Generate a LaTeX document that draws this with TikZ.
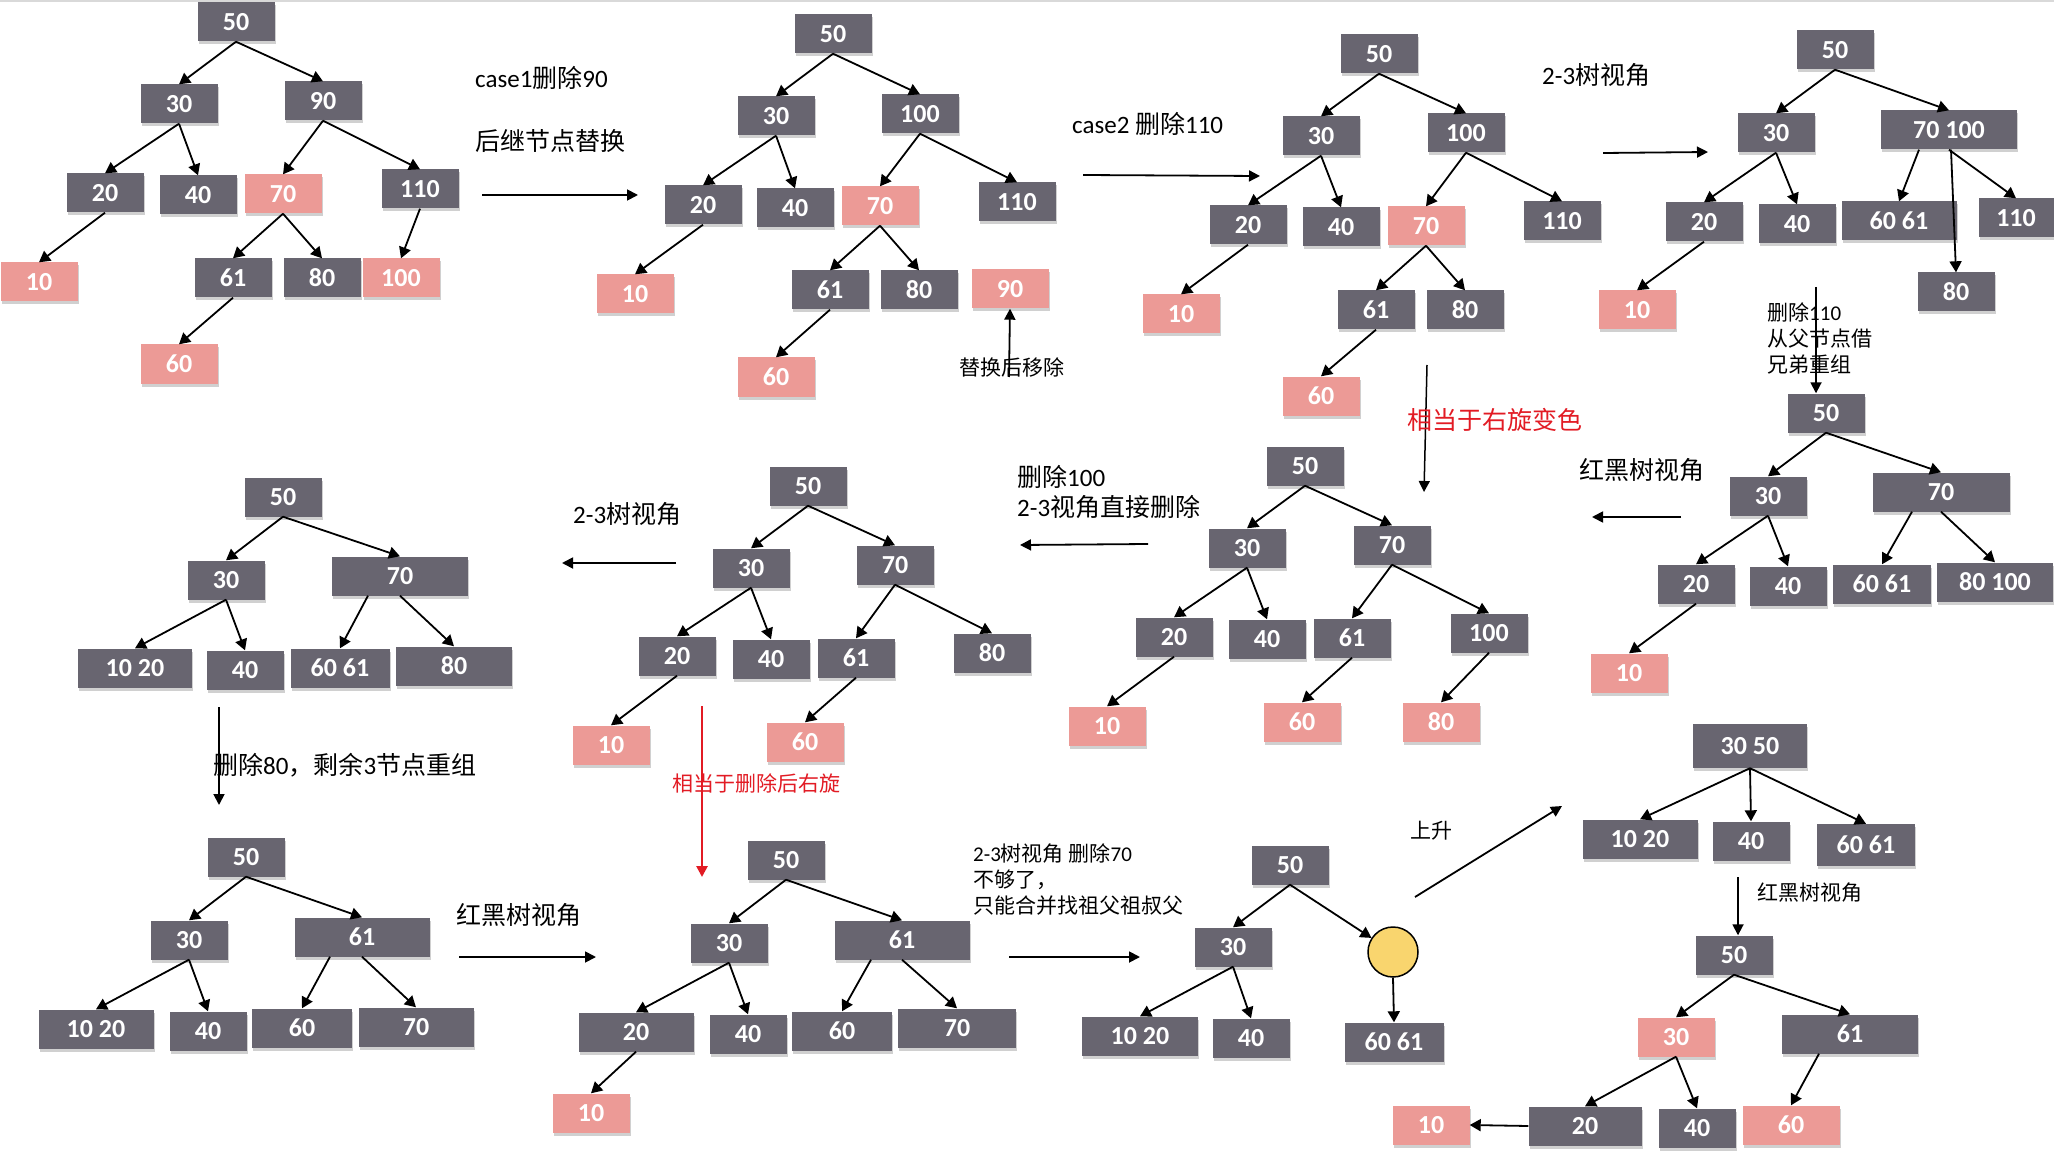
\documentclass[tikz,border=0pt]{standalone}
\usepackage{fontspec}
\setmainfont{Carlito}
\newfontfamily\cjk{Noto Sans CJK SC}
\usetikzlibrary{arrows.meta,shadows}
\definecolor{boxgray}{RGB}{104,101,112}
\definecolor{boxpink}{RGB}{236,154,150}
\definecolor{noteRed}{RGB}{226,27,36}
\definecolor{sunYellow}{RGB}{249,213,110}
\newcommand\zh[1]{{\cjk #1}}
\newcommand\keyfont{\fontsize{26}{28}\selectfont\bfseries}
\newcommand\notefont{\fontsize{25}{30}\selectfont}
\newcommand\smallnote{\fontsize{21}{26}\selectfont}
\begin{document}
\begin{tikzpicture}[x=1pt,y=-1pt,
  key/.style={rectangle, inner sep=0pt, minimum width=77pt, minimum height=39pt,
    text=white, font=\keyfont,
    drop shadow={shadow xshift=1pt, shadow yshift=-3pt, opacity=0.3, fill=black!60}},
  blk/.style={key, fill=boxgray},
  pnk/.style={key, fill=boxpink},
  wd/.style={minimum width=#1pt},
  edge/.style={line width=1.8pt, -{Triangle[length=11pt,width=12pt]}},
  flow/.style={line width=1.8pt, -{Triangle[length=11pt,width=11pt]}},
  note/.style={inner sep=0pt, anchor=west, align=left, font=\notefont},
  smallnote/.style={note, font=\smallnote},
]
\useasboundingbox (0,0) rectangle (2054,1158);
\fill[white] (0,0) rectangle (2054,1158);
\fill[black!15] (0,0) rectangle (2054,2);

% ---------- tree A: initial red-black tree ----------
\node[blk] (A50) at (236,22) {50};
\node[blk] (A30) at (179,104) {30};
\node[blk] (A90) at (323,101) {90};
\node[blk] (A20) at (105,193) {20};
\node[blk] (A40) at (198,195) {40};
\node[pnk] (A70) at (283,194) {70};
\node[blk] (A110) at (420,189) {110};
\node[pnk] (A10) at (39,282) {10};
\node[blk] (A61) at (233,278) {61};
\node[blk] (A80) at (322,278) {80};
\node[pnk] (A100) at (401,278) {100};
\node[pnk] (A60) at (179,364) {60};
\foreach \p/\c in {A50/A30,A50/A90,A30/A20,A30/A40,A20/A10,A90/A70,A90/A110,A70/A61,A70/A80,A110/A100,A61/A60}
  \draw[edge] (\p.south) -- (\c.north);

\node[note] (caseA) at (475,78) {case1\zh{删除}90};
\node[note] (succ) at (475,141) {\zh{后继节点替换}};
\coordinate (fA1) at (482,195);
\coordinate (fA2) at (638,195);
\draw[flow] (fA1) -- (fA2);

% ---------- tree B: successor 100 replaces 90 ----------
\node[blk] (B50) at (833,34) {50};
\node[blk] (B30) at (776,116) {30};
\node[blk] (B100) at (920,114) {100};
\node[blk] (B20) at (703,205) {20};
\node[blk] (B40) at (795,208) {40};
\node[pnk] (B70) at (880,206) {70};
\node[blk] (B110) at (1017,202) {110};
\node[pnk] (B10) at (635,294) {10};
\node[blk] (B61) at (830,290) {61};
\node[blk] (B80) at (919,290) {80};
\node[pnk] (B90) at (1010,289) {90};
\node[pnk] (B60) at (776,377) {60};
\foreach \p/\c in {B50/B30,B50/B100,B30/B20,B30/B40,B20/B10,B100/B70,B100/B110,B70/B61,B70/B80,B61/B60}
  \draw[edge] (\p.south) -- (\c.north);
\coordinate (fB1) at (1009,377);
\draw[flow] (fB1) -- (B90.south);
\node[smallnote, anchor=center] (rmv) at (1012,367) {\zh{替换后移除}};

\node[note] (caseB) at (1072,124) {case2 \zh{删除}110};
\coordinate (fB2) at (1083,175);
\coordinate (fB3) at (1260,176);
\draw[flow] (fB2) -- (fB3);

% ---------- tree C ----------
\node[blk] (C50) at (1379,54) {50};
\node[blk] (C30) at (1321,136) {30};
\node[blk] (C100) at (1466,133) {100};
\node[blk] (C20) at (1248,225) {20};
\node[blk] (C40) at (1341,227) {40};
\node[pnk] (C70) at (1426,226) {70};
\node[blk] (C110) at (1562,221) {110};
\node[pnk] (C10) at (1181,314) {10};
\node[blk] (C61) at (1376,310) {61};
\node[blk] (C80) at (1465,310) {80};
\node[pnk] (C60) at (1321,396) {60};
\foreach \p/\c in {C50/C30,C50/C100,C30/C20,C30/C40,C20/C10,C100/C70,C100/C110,C70/C61,C70/C80,C61/C60}
  \draw[edge] (\p.south) -- (\c.north);

\node[note] (viewC) at (1542,75) {2-3\zh{树视角}};
\coordinate (fC1) at (1603,153);
\coordinate (fC2) at (1708,152);
\draw[flow] (fC1) -- (fC2);

\coordinate (fC3) at (1427,365);
\coordinate (fC4) at (1424,492);
\draw[line width=1.5pt, -{Triangle[length=11pt,width=11pt]}] (fC3) -- (fC4);
\node[note, text=noteRed] (rotC) at (1407,420) {\zh{相当于右旋变色}};

% ---------- tree D: 2-3 view ----------
\node[blk] (D50) at (1835,50) {50};
\node[blk] (D30) at (1776,133) {30};
\node[blk, wd=136] (D70100) at (1949,130) {70 100};
\node[blk] (D20) at (1704,222) {20};
\node[blk] (D40) at (1797,224) {40};
\node[blk, wd=115] (D6061) at (1899,221) {60 61};
\node[blk, wd=75] (D110) at (2016,218) {110};
\node[blk] (D80) at (1956,292) {80};
\node[pnk] (D10) at (1637,310) {10};
\foreach \p/\c in {D50/D30,D50/D70100,D30/D20,D30/D40,D20/D10,D70100/D110}
  \draw[edge] (\p.south) -- (\c.north);
\draw[edge] ([xshift=-30pt]D70100.south) -- (D6061.north);
\draw[edge] ([xshift=2pt]D70100.south) -- (D80.north);

% ---------- tree E ----------
\node[blk] (E50) at (1826,413) {50};
\node[blk] (E30) at (1768,496) {30};
\node[blk, wd=137] (E70) at (1941,492) {70};
\node[blk] (E20) at (1696,584) {20};
\node[blk] (E40) at (1788,586) {40};
\node[blk, wd=98] (E6061) at (1882,584) {60 61};
\node[blk, wd=116] (E80100) at (1995,582) {80 100};
\node[pnk] (E10) at (1629,673) {10};
\foreach \p/\c in {E50/E30,E50/E70,E30/E20,E30/E40,E20/E10,E70/E80100}
  \draw[edge] (\p.south) -- (\c.north);
\draw[edge] ([xshift=-29pt]E70.south) -- (E6061.north);

\coordinate (fD1) at (1816,287);
\draw[flow] (fD1) -- (E50.north -| fD1);
\node[smallnote] (borrow) at (1767,338) {\zh{删除}110\\\zh{从父节点借}\\\zh{兄弟重组}};

\node[note] (rbE) at (1579,470) {\zh{红黑树视角}};
\coordinate (fE1) at (1681,517);
\coordinate (fE2) at (1592,517);
\draw[flow] (fE1) -- (fE2);

% ---------- tree F ----------
\node[blk] (F50) at (1305,466) {50};
\node[blk] (F30) at (1247,548) {30};
\node[blk] (F70) at (1392,545) {70};
\node[blk] (F20) at (1174,637) {20};
\node[blk] (F40) at (1267,639) {40};
\node[blk] (F61) at (1352,638) {61};
\node[blk] (F100) at (1489,633) {100};
\node[pnk] (F10) at (1107,726) {10};
\node[pnk] (F60) at (1302,722) {60};
\node[pnk] (F80) at (1441,722) {80};
\foreach \p/\c in {F50/F30,F50/F70,F30/F20,F30/F40,F20/F10,F70/F61,F70/F100,F61/F60,F100/F80}
  \draw[edge] (\p.south) -- (\c.north);

\node[note] (delF) at (1017,492) {\zh{删除}100\\2-3\zh{视角直接删除}};
\coordinate (fF1) at (1148,544);
\coordinate (fF2) at (1020,545);
\draw[flow] (fF1) -- (fF2);

% ---------- tree G ----------
\node[blk] (G50) at (808,486) {50};
\node[blk] (G30) at (751,568) {30};
\node[blk] (G70) at (895,565) {70};
\node[blk] (G20) at (677,656) {20};
\node[blk] (G40) at (771,659) {40};
\node[blk] (G61) at (856,658) {61};
\node[blk] (G80) at (992,653) {80};
\node[pnk] (G10) at (611,745) {10};
\node[pnk] (G60) at (805,742) {60};
\foreach \p/\c in {G50/G30,G50/G70,G30/G20,G30/G40,G20/G10,G70/G61,G70/G80,G61/G60}
  \draw[edge] (\p.south) -- (\c.north);

\node[note] (viewG) at (573,514) {2-3\zh{树视角}};
\coordinate (fG1) at (676,563);
\coordinate (fG2) at (562,563);
\draw[flow] (fG1) -- (fG2);

\coordinate (fG3) at (702,706);
\coordinate (fG4) at (702,877);
\draw[line width=2.6pt, noteRed, -{Triangle[length=11pt,width=11pt]}] (fG3) -- (fG4);
\node[smallnote, text=noteRed] (rotG) at (672,783) {\zh{相当于删除后右旋}};

% ---------- tree H: 2-3 view ----------
\node[blk] (H50) at (283,497) {50};
\node[blk] (H30) at (226,580) {30};
\node[blk, wd=136] (H70) at (400,576) {70};
\node[blk, wd=114] (H1020) at (135,668) {10 20};
\node[blk] (H40) at (245,670) {40};
\node[blk, wd=99] (H6061) at (340,668) {60 61};
\node[blk, wd=116] (H80) at (454,666) {80};
\foreach \p/\c in {H50/H30,H50/H70,H30/H1020,H30/H40,H70/H80}
  \draw[edge] (\p.south) -- (\c.north);
\draw[edge] ([xshift=-32pt]H70.south) -- (H6061.north);

\coordinate (fH1) at (219,707);
\coordinate (fH2) at (219,805);
\draw[flow] (fH1) -- (fH2);
\node[note] (mergeH) at (213,765) {\zh{删除}80\zh{，剩余}3\zh{节点重组}};

% ---------- tree I ----------
\node[blk] (I50) at (246,857) {50};
\node[blk] (I30) at (189,940) {30};
\node[blk, wd=135] (I61) at (362,937) {61};
\node[blk, wd=115] (I1020) at (96,1029) {10 20};
\node[blk] (I40) at (208,1031) {40};
\node[blk, wd=100] (I60) at (302,1028) {60};
\node[blk, wd=115] (I70) at (416,1027) {70};
\foreach \p/\c in {I50/I30,I50/I61,I30/I1020,I30/I40,I61/I70}
  \draw[edge] (\p.south) -- (\c.north);
\draw[edge] ([xshift=-32pt]I61.south) -- (I60.north);

\node[note] (rbI) at (456,915) {\zh{红黑树视角}};
\coordinate (fI1) at (459,957);
\coordinate (fI2) at (596,957);
\draw[flow] (fI1) -- (fI2);

% ---------- tree J ----------
\node[blk] (J50) at (786,860) {50};
\node[blk] (J30) at (729,943) {30};
\node[blk, wd=135] (J61) at (902,940) {61};
\node[blk, wd=115] (J20) at (636,1032) {20};
\node[blk] (J40) at (748,1034) {40};
\node[blk, wd=100] (J60) at (842,1031) {60};
\node[blk, wd=118] (J70) at (957,1028) {70};
\node[pnk] (J10) at (591,1113) {10};
\foreach \p/\c in {J50/J30,J50/J61,J30/J20,J30/J40,J61/J70,J20/J10}
  \draw[edge] (\p.south) -- (\c.north);
\draw[edge] ([xshift=-31pt]J61.south) -- (J60.north);

\node[smallnote] (delJ) at (973,880) {2-3\zh{树视角} \zh{删除}70\\\zh{不够了，}\\\zh{只能合并找祖父祖叔父}};
\coordinate (fJ1) at (1009,957);
\coordinate (fJ2) at (1140,957);
\draw[flow] (fJ1) -- (fJ2);

% ---------- tree K: merged, empty parent ----------
\node[blk] (K50) at (1290,865) {50};
\node[blk] (K30) at (1233,947) {30};
\node[circle, draw=black, line width=1.5pt, fill=sunYellow, minimum size=50pt, inner sep=0pt] (Kc) at (1393,952) {};
\node[blk, wd=116] (K1020) at (1140,1036) {10 20};
\node[blk] (K40) at (1251,1038) {40};
\node[blk, wd=99] (K6061) at (1394,1042) {60 61};
\foreach \p/\c in {K30/K1020,K30/K40,Kc/K6061}
  \draw[edge] (\p.south) -- (\c.north);
\draw[edge] (K50.south) -- (K30.north);
\draw[edge] (K50.south) -- (Kc);

\node[smallnote] (up) at (1410,831) {\zh{上升}};
\coordinate (fK1) at (1415,897);
\coordinate (fK2) at (1562,806);
\draw[flow] (fK1) -- (fK2);

% ---------- tree L: 2-3 view after merge ----------
\node[blk, wd=114, minimum height=44pt] (L3050) at (1750,746) {30 50};
\node[blk, wd=115] (L1020) at (1640,839) {10 20};
\node[blk] (L40) at (1751,841) {40};
\node[blk, wd=98, minimum height=42pt] (L6061) at (1866,845) {60 61};
\foreach \c in {L1020,L40,L6061}
  \draw[edge] (L3050.south) -- (\c.north);

% ---------- tree M: final red-black tree ----------
\node[blk] (M50) at (1734,955) {50};
\node[pnk] (M30) at (1676,1037) {30};
\node[blk, wd=136] (M61) at (1850,1034) {61};
\node[blk, wd=113] (M20) at (1585,1126) {20};
\node[blk] (M40) at (1697,1128) {40};
\node[pnk, wd=97] (M60) at (1791,1125) {60};
\node[pnk] (M10) at (1431,1125) {10};
\foreach \p/\c in {M50/M30,M50/M61,M30/M20,M30/M40}
  \draw[edge] (\p.south) -- (\c.north);
\draw[edge] ([xshift=-31pt]M61.south) -- (M60.north);
\draw[edge] (M20.west) -- (M10.east);

\coordinate (fL1) at (1738,877);
\draw[flow] (fL1) -- (M50.north -| fL1);
\node[smallnote] (rbL) at (1757,893) {\zh{红黑树视角}};
\end{tikzpicture}
\end{document}
